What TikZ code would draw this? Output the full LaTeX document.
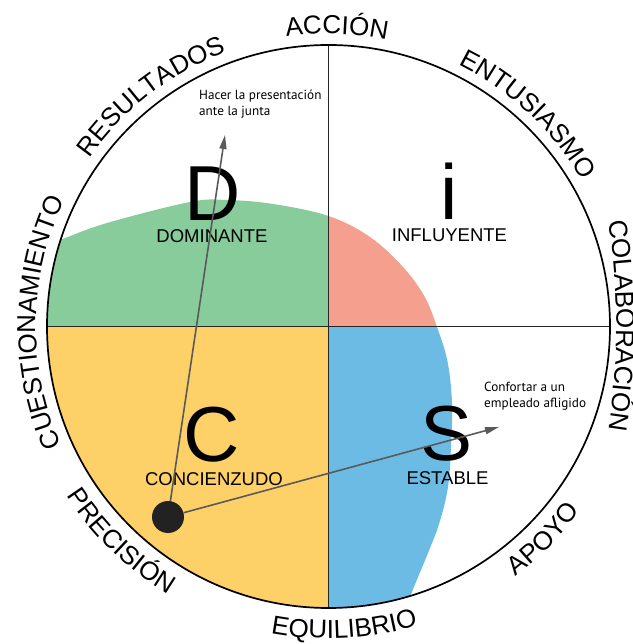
\documentclass[tikz,border=0pt]{standalone}
\usepackage{fontspec}
\setmainfont{Liberation Sans}
\newfontfamily\lblfont{Liberation Sans}
\newfontfamily\notefont{PT Sans}
\usetikzlibrary{decorations.text,arrows.meta}
\definecolor{discgreen}{HTML}{89CC9C}
\definecolor{discsalmon}{HTML}{F5A08E}
\definecolor{discyellow}{HTML}{FDD068}
\definecolor{discblue}{HTML}{6CBBE4}
\definecolor{arrowgray}{HTML}{5A5A5A}
\definecolor{dotblack}{HTML}{222222}
\newcommand\outlabel[2]{\path[decorate,decoration={text along path,text={|\lblfont\fontsize{26}{26}\selectfont|#2},text align=center}] ({#1+40}:292.5) arc[start angle={#1+40}, end angle={#1-40}, radius=292.5];}
\newcommand\inlabel[2]{\path[decorate,decoration={text along path,text={|\lblfont\fontsize{26}{26}\selectfont|#2},text align=center}] ({#1-40}:312) arc[start angle={#1-40}, end angle={#1+40}, radius=312];}
\begin{document}
\begin{tikzpicture}[x=1pt,y=1pt,
  quadline/.style={draw=black!85, line width=1pt},
  rimline/.style={draw=black, line width=1.7pt},
  bigletter/.style={anchor=base, inner sep=0pt, font=\fontsize{78}{78}\selectfont},
  stylelbl/.style={anchor=base, inner sep=0pt, font=\fontsize{18.5}{18.5}\selectfont},
  note/.style={anchor=base west, inner sep=0pt, align=left, font=\notefont\fontsize{13.2}{16.5}\selectfont},
  arrowline/.style={draw=arrowgray, line width=1.6pt, -{Triangle[length=14pt,width=7pt]}},
  dotnode/.style={circle, fill=dotblack, minimum size=32pt, inner sep=0pt}]
\useasboundingbox (-328.5,-317.5) rectangle (303.5,326.5);
\fill[white] (-328.5,-317.5) rectangle (303.5,326.5);
\def\R{281.5}
\begin{scope}
  \clip (0,0) circle (\R);
  \fill[discyellow] (-300,0) rectangle (0,-300);
  \begin{scope}
    \clip (-320,-320) -- (-320,74) -- plot[smooth,tension=0.6] coordinates {(-290,79) (-268.5,86.5) (-221.5,103.5) (-138.5,124.5) (-101.5,126.5) (-55.5,122.5) (0,110.5) (41.5,89.5) (74.5,59.5) (96,30) (108.5,-0.5) (119,-35) (123.5,-76.5) (122.5,-120) (119.5,-160.5) (111,-196) (99.5,-226.5) (81.5,-270.5) (74,-295)} -- (70,-320) -- cycle;
    \fill[discgreen] (-300,0) rectangle (0,300);
    \fill[discsalmon] (0,0) rectangle (300,300);
    \fill[discblue] (0,0) rectangle (300,-300);
  \end{scope}
\end{scope}
\draw[quadline] (0,\R) -- (0,-\R);
\draw[quadline] (-\R,0) -- (\R,0);
\draw[rimline] (0,0) circle (\R);
% outer labels
\outlabel{88.4}{ACCIÓN}
\outlabel{127.6}{RESULTADOS}
\outlabel{46.8}{ENTUSIASMO}
\outlabel{179.2}{CUESTIONAMIENTO}
\path[decorate,decoration={text along path,text={|\lblfont\fontsize{26}{26}\selectfont|COLABORACIÓN},text align=center}] (-389,1) ++(12:677) arc[start angle=12, end angle=-12, radius=677];
\inlabel{226}{PRECISIÓN}
\inlabel{273}{EQUILIBRIO}
\inlabel{315.3}{APOYO}
% quadrant letters
\node[bigletter] (D) at (-115.5,105.5) {D};
\node[stylelbl] (dom) at (-116.5,83.5) {DOMINANTE};
\node[bigletter] (I) at (120.5,106.5) {i};
\node[stylelbl] (inf) at (121,84.5) {INFLUYENTE};
\node[bigletter] (C) at (-116.5,-134.5) {C};
\node[stylelbl] (con) at (-114.5,-158.5) {CONCIENZUDO};
\node[bigletter] (S) at (118.5,-133.5) {S};
\node[stylelbl] (est) at (119,-157.5) {ESTABLE};
% notes (base anchor = last line)
\node[note] (hacer) at (-129.5,210.5) {Hacer la presentación\\ante la junta};
\node[note] (conf) at (155.5,-81.5) {Confortar a un\\empleado afligido};
% arrows
\coordinate (tipA) at (-103.5,191.5);
\coordinate (tipB) at (170.5,-100.5);
\node[dotnode] (dot) at (-160.5,-190.5) {};
\draw[arrowline] (dot) -- (tipA);
\draw[arrowline] (dot) -- (tipB);
\end{tikzpicture}
\end{document}
